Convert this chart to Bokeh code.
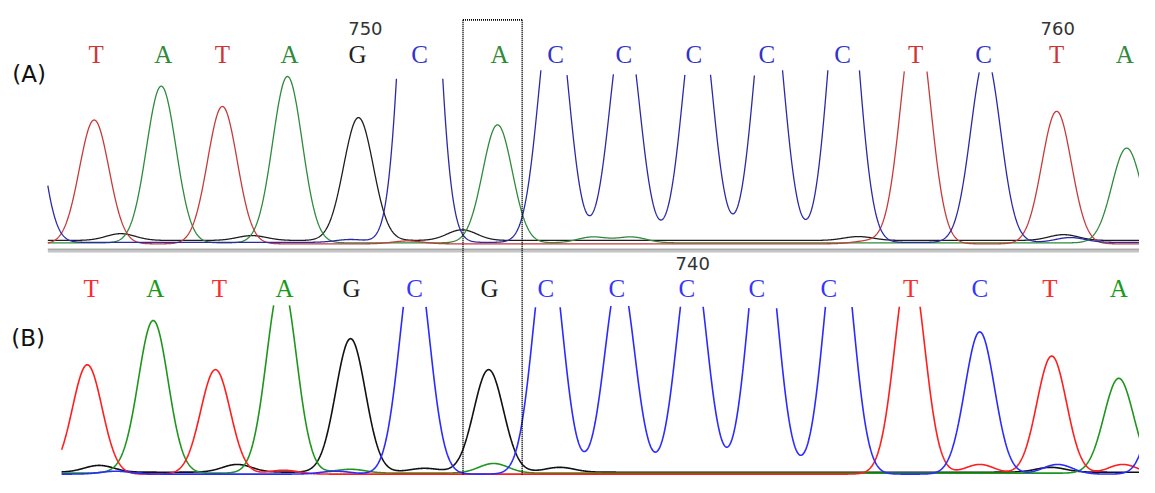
import numpy as np
from bokeh.plotting import figure
from bokeh.models import Range1d
from bokeh.core.properties import value
from bokeh.embed import file_html
from bokeh.resources import INLINE

# ---------------- data ----------------
# base calls (letters) and their positions
A_CALLS = ["T", "A", "T", "A", "G", "C", "A", "C", "C", "C", "C", "C", "T", "C", "T", "A"]
A_CALL_POS = [97, 165, 225, 293, 362, 425, 506, 563, 632, 703, 777, 854, 928, 997, 1071, 1140]
B_CALLS = ["T", "A", "T", "A", "G", "C", "G", "C", "C", "C", "C", "C", "T", "C", "T", "A"]
B_CALL_POS = [92, 157, 222, 288, 356, 420, 496, 553, 625, 696, 767, 840, 923, 993, 1064, 1134]

# position tick labels
A_TICKS = ["750", "760"]
A_TICK_POS = [370, 1072]
B_TICKS = ["740"]
B_TICK_POS = [702]

# trace peaks: channel, centre, height (signal units)
A_PEAK_BASE = ["C", "T", "A", "T", "A", "G", "C", "A", "C", "C", "C", "C", "C", "T", "C", "T", "A",
               "G", "G", "G", "A", "A", "G", "C", "T", "C", "T", "G"]
A_PEAK_POS = [25, 95, 163, 225, 291, 363, 425, 504, 561, 633, 707, 779, 855, 928, 999, 1071, 1142,
              122, 255, 468, 600, 640, 1078, 1085, 413, 355, 880, 870]
A_PEAK_H = [190, 128, 162, 142, 172, 127, 577, 122, 259, 233, 252, 275, 314, 239, 193, 137, 98,
            7, 5, 11, 6, 6, 6, 5, 3, 3, 3, 4]

B_PEAK_BASE = ["T", "A", "T", "A", "G", "C", "G", "C", "C", "C", "C", "C", "T", "C", "T", "A", "C",
               "G", "G", "A", "G", "G", "G", "A", "T", "T", "T", "C", "C", "C", "A"]
B_PEAK_POS = [88, 155, 218, 285, 355, 420, 495, 555, 628, 701, 773, 850, 922, 993, 1066, 1134, 1185,
              100, 240, 500, 567, 430, 1065, 355, 287, 993, 1138, 117, 1072, 340, 130]
B_PEAK_H = [113, 157, 108, 200, 138, 232, 106, 244, 208, 232, 265, 259, 221, 147, 122, 98, 150,
            7, 8, 10, 5, 4, 5, 4, 4, 10, 10, 3, 10, 3, 3]

# ---------------- styling ----------------
SIGMA = 15.0
A_COL = {"T": "#c83a3a", "A": "#2e8a3c", "G": "#1e1e1e", "C": "#2a2aa8"}
B_COL = {"T": "#ff1e1e", "A": "#1e961e", "G": "#111111", "C": "#2b2bff"}
A_TXT = {"T": "#d03535", "A": "#2f8a3a", "G": "#222222", "C": "#3333c8"}
B_TXT = {"T": "#ff2a2a", "A": "#1a9a1a", "G": "#222222", "C": "#3535ff"}

p = figure(width=1139, height=477, output_backend="svg", toolbar_location=None,
           x_range=Range1d(0, 1155), y_range=Range1d(493, 0),
           min_border=0, background_fill_color="white", border_fill_color="white")
p.axis.visible = False
p.grid.visible = False
p.outline_line_color = None


def draw_panel(bases, pos, hts, x0, baseline, top, cols, lw, offsets):
    xs = np.arange(x0, 1156, 0.5)
    bases = np.array(bases)
    pos = np.array(pos, dtype=float)
    hts = np.array(hts, dtype=float)
    for ch in ["G", "A", "T", "C"]:
        m = bases == ch
        sig = np.zeros_like(xs)
        for c, h in zip(pos[m], hts[m]):
            sig += h * np.exp(-(xs - c) ** 2 / (2 * SIGMA ** 2))
        y = baseline + offsets[ch] - sig
        y[y < top] = np.nan
        p.line(xs, y, line_color=cols[ch], line_width=lw)


draw_panel(A_PEAK_BASE, A_PEAK_POS, A_PEAK_H, 48, 250, 72, A_COL, 1.3,
           {"T": 1.5, "A": 0.5, "G": -2, "C": 0})
draw_panel(B_PEAK_BASE, B_PEAK_POS, B_PEAK_H, 62, 489, 313, B_COL, 1.6,
           {"T": 0.5, "A": -0.5, "G": -1.5, "C": 0.5})

# separator between the two traces
p.line([48, 1155], [259, 259], line_color="#c4c4c4", line_width=3)
p.line([48, 1155], [257, 257], line_color="#8a8a8a", line_width=1)

# base call letters
p.text(x=A_CALL_POS, y=[56] * len(A_CALLS), text=A_CALLS,
       text_color=[A_TXT[b] for b in A_CALLS], text_font=value("Liberation Serif"),
       text_font_size="25px", text_align="center", text_baseline="middle")
p.text(x=B_CALL_POS, y=[298] * len(B_CALLS), text=B_CALLS,
       text_color=[B_TXT[b] for b in B_CALLS], text_font=value("Liberation Serif"),
       text_font_size="25px", text_align="center", text_baseline="middle")

# position numbers
p.text(x=A_TICK_POS, y=[29] * len(A_TICKS), text=A_TICKS, text_color="#333333",
       text_font=value("DejaVu Sans"), text_font_size="18px",
       text_align="center", text_baseline="middle")
p.text(x=B_TICK_POS, y=[272] * len(B_TICKS), text=B_TICKS, text_color="#333333",
       text_font=value("DejaVu Sans"), text_font_size="18px",
       text_align="center", text_baseline="middle")

# panel labels
p.text(x=[29, 28], y=[76, 349], text=["(A)", "(B)"], text_color="#111111",
       text_font=value("DejaVu Sans"), text_font_size="23px",
       text_align="center", text_baseline="middle")

# dotted highlight box
p.multi_line(xs=[[469, 469], [469, 529], [529, 529]],
             ys=[[20, 490], [20, 20], [20, 490]],
             line_color="black", line_width=1.6, line_dash="1 1")

open("out.html", "w").write(file_html(p, INLINE))
